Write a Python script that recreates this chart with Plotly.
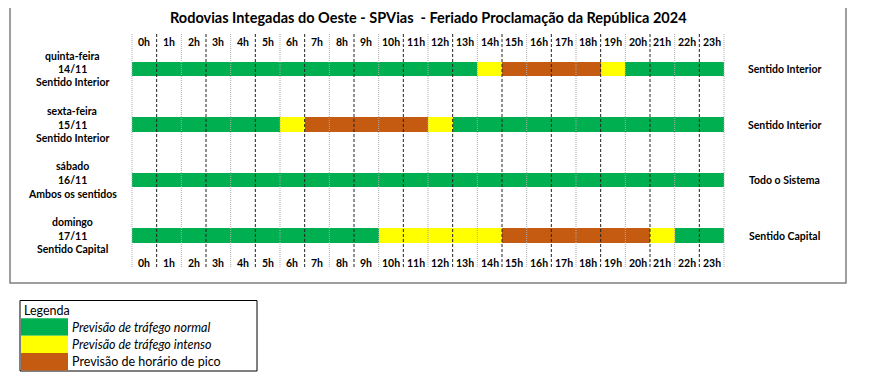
import plotly.graph_objects as go

# ---------------- data ----------------
title = "Rodovias Integadas do Oeste - SPVias  - Feriado Proclamação da República 2024"
hours = [f"{h}h" for h in range(24)]
days = ["quinta-feira", "sexta-feira", "sábado", "domingo"]
dates = ["14/11", "15/11", "16/11", "17/11"]
left_dirs = ["Sentido Interior", "Sentido Interior", "Ambos os sentidos", "Sentido Capital"]
right_dirs = ["Sentido Interior", "Sentido Interior", "Todo o Sistema", "Sentido Capital"]

# segments per day: (start hour, end hour, level) level: 0 normal, 1 intenso, 2 pico
seg_thu = [(0, 14, 0), (14, 15, 1), (15, 19, 2), (19, 20, 1), (20, 24, 0)]
seg_fri = [(0, 6, 0), (6, 7, 1), (7, 12, 2), (12, 13, 1), (13, 24, 0)]
seg_sat = [(0, 24, 0)]
seg_sun = [(0, 10, 0), (10, 15, 1), (15, 21, 2), (21, 22, 1), (22, 24, 0)]
segments = [seg_thu, seg_fri, seg_sat, seg_sun]

legend_title = "Legenda"
legend_labels = ["Previsão de tráfego normal", "Previsão de tráfego intenso", "Previsão de horário de pico"]
level_colors = ["#00B050", "#FFFF00", "#C55A11"]

# ---------------- layout helpers ----------------
PAGE_W, PAGE_H = 885, 380
OFF = 8                      # default body margin of the html page
W, H = PAGE_W - OFF, PAGE_H - OFF
FONT = "Lato"
X0PX, PXH = 132.0, 24.667    # page pixel of hour 0, pixels per hour
Y0PX, PXR = 69.0, 55.5       # page pixel of row 0 centre, pixels per row

def px(x):
    return (x - OFF) / W

def py(y):
    return 1 - (y - OFF) / H

fig = go.Figure()

for lvl, color in enumerate(level_colors):
    ys, xs, bases = [], [], []
    for r, segs in enumerate(segments):
        for s, e, l in segs:
            if l == lvl:
                ys.append(r)
                xs.append(e - s)
                bases.append(s)
    fig.add_trace(go.Bar(
        y=ys, x=xs, base=bases, orientation="h",
        marker=dict(color=color, line=dict(width=0)),
        width=14.5 / PXR, showlegend=False, hoverinfo="skip",
    ))

shapes = []
shapes.append(dict(type="rect", xref="paper", yref="paper",
                   x0=px(10), x1=px(846), y0=py(283), y1=py(6.5),
                   line=dict(color="#7F7F7F", width=1.5), layer="below"))
for k in range(25):
    black = (k % 2 == 1)
    shapes.append(dict(type="line", xref="x", yref="paper",
                       x0=k, x1=k, y0=py(34), y1=py(268),
                       line=dict(color="#222222" if black else "#AAAAAA",
                                 width=1, dash="3px,2px" if black else "1px,1px"),
                       layer="above"))

def ann(text, x, y, size=10.5, xref="paper", xanchor="center", **kw):
    annotations.append(dict(text=text, xref=xref, yref="paper", x=x, y=y,
                            xanchor=xanchor, yanchor="middle", showarrow=False,
                            font=dict(family=FONT, size=size, color="#000"), **kw))

annotations = []
ann(f"<b>{title}</b>", px(428), py(18), size=14.5)
for h, lab in enumerate(hours):
    for ypx in (42, 263):
        ann(f"<b>{lab}</b>", h + 0.5, py(ypx), xref="x")
for r in range(4):
    cy = Y0PX + PXR * r
    for off, t in zip((-13.5, 0, 13.5), (days[r], dates[r], left_dirs[r])):
        ann(f"<b>{t}</b>", px(72), py(cy + off))
    ann(f"<b>{right_dirs[r]}</b>", px(784), py(cy))

# legend box
shapes.append(dict(type="rect", xref="paper", yref="paper",
                   x0=px(20), x1=px(257), y0=py(371), y1=py(300.5),
                   line=dict(color="#000", width=1)))
ann(legend_title, px(22), py(310), size=12.5, xanchor="left")
row_tops = [318.3, 335.7, 353.0, 370.5]
for i, (lab, col) in enumerate(zip(legend_labels, level_colors)):
    shapes.append(dict(type="rect", xref="paper", yref="paper",
                       x0=px(21), x1=px(68), y0=py(row_tops[i + 1]), y1=py(row_tops[i]),
                       fillcolor=col, line=dict(width=0)))
    txt = f"<i>{lab}</i>" if i < 2 else lab
    ann(txt, px(70), py((row_tops[i] + row_tops[i + 1]) / 2), size=12.5, xanchor="left")

fig.update_layout(
    width=W, height=H, margin=dict(l=0, r=0, t=0, b=0),
    paper_bgcolor="white", plot_bgcolor="white",
    barmode="overlay", bargap=0,
    xaxis=dict(range=[-(X0PX - OFF) / PXH, (PAGE_W - X0PX) / PXH], visible=False, fixedrange=True),
    yaxis=dict(range=[(PAGE_H - Y0PX) / PXR, -(Y0PX - OFF) / PXR], visible=False, fixedrange=True),
    shapes=shapes, annotations=annotations, showlegend=False,
)

fig.write_html("out.html", config=dict(displayModeBar=False))
